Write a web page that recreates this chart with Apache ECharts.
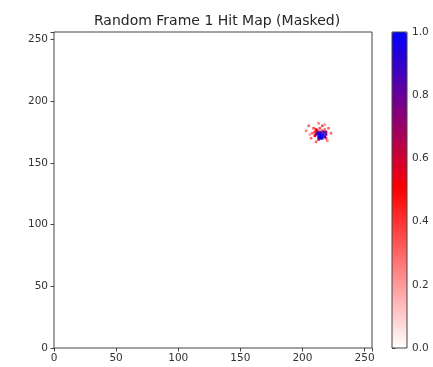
<!DOCTYPE html>
<html>
<head>
<meta charset="utf-8">
<script src="https://cdn.jsdelivr.net/npm/echarts@6/dist/echarts.min.js"></script>
<style>html,body{margin:0;padding:0;background:#fff}#c{width:433px;height:367px}</style>
</head>
<body>
<div id="c"></div>
<script>
// Hit pixels (x, y, value); zero-valued pixels are masked and not drawn
const hitX = [205,213,221,203,207,223,216,209,220,211,218,206,210,212,216,218,210,213,219,208,214,211,212,214,211,219,217,213,218,216,214,215,217,213,215,216,214,214,213,215,219];
const hitY = [180,182,178,176,170,174,180,178,168,167,181,173,175,176,176,177,172,169,170,174,178,177,174,175,173,173,175,171,171,170,171,174,173,173,172,172,173,170,174,170,175];
const hitV = [0.3,0.25,0.3,0.25,0.3,0.3,0.35,0.35,0.25,0.3,0.2,0.2,0.45,0.6,0.35,0.3,0.55,0.65,0.4,0.3,0.35,0.5,0.8,0.75,0.7,0.8,0.85,0.85,0.85,0.9,0.95,0.9,0.9,1.0,1.0,0.95,0.95,1.0,0.9,0.95,0.7];
const axisTicks = [0, 50, 100, 150, 200, 250];
const cbarTicks = [0.0, 0.2, 0.4, 0.6, 0.8, 1.0];
const titleText = 'Random Frame 1 Hit Map (Masked)';

const pts = hitX.map((x, i) => [x, hitY[i], hitV[i]]).sort((a, b) => a[2] - b[2]);
const font = 'DejaVu Sans';
const axisCol = '#444';
const chart = echarts.init(document.getElementById('c'), null, {renderer: 'canvas'});
chart.setOption({
  animation: false,
  backgroundColor: '#fff',
  title: {text: titleText, left: 212, top: 9, textAlign: 'center',
    textStyle: {fontFamily: font, fontSize: 14, fontWeight: 'normal', color: '#262626'}},
  grid: [
    {left: 54, right: 61, top: 32, bottom: 19, show: true, borderColor: axisCol, borderWidth: 1, z: 5},
    {left: 392, width: 15, top: 32, height: 316, show: true, borderColor: axisCol, borderWidth: 1, z: 10, backgroundColor: 'transparent'}
  ],
  xAxis: [
    {type: 'value', gridIndex: 0, min: 0, max: 256, interval: 50,
      axisLine: {show: false}, splitLine: {show: false},
      axisTick: {show: true, length: 3.5, lineStyle: {color: axisCol}},
      axisLabel: {fontFamily: font, fontSize: 10.5, color: '#333', margin: 5,
        formatter: v => axisTicks.includes(v) ? String(v) : ''}},
    {type: 'value', gridIndex: 1, show: false, min: 0, max: 1}
  ],
  yAxis: [
    {type: 'value', gridIndex: 0, min: 0, max: 256, interval: 50,
      axisLine: {show: false}, splitLine: {show: false},
      axisTick: {show: true, length: 3.5, lineStyle: {color: axisCol}},
      axisLabel: {fontFamily: font, fontSize: 10.5, color: '#333', margin: 6,
        formatter: v => axisTicks.includes(v) ? String(v) : ''}},
    {type: 'value', gridIndex: 1, position: 'right', min: 0, max: 1, interval: 0.2,
      axisLine: {show: false}, splitLine: {show: false},
      axisTick: {show: true, length: 3.5, lineStyle: {color: axisCol}},
      axisLabel: {fontFamily: font, fontSize: 10.5, color: '#333', margin: 5,
        formatter: v => cbarTicks.some(t => Math.abs(t - v) < 1e-6) ? v.toFixed(1) : ''}}
  ],
  visualMap: {
    type: 'continuous', min: 0, max: 1, dimension: 2, seriesIndex: 0,
    calculable: false, hoverLink: false, text: null, showLabel: false,
    left: 392, top: 32, padding: 0, itemWidth: 15, itemHeight: 316,
    inRange: {color: ['#ffffff', '#ff0000', '#0000ff']}
  },
  series: [{
    type: 'scatter', xAxisIndex: 0, yAxisIndex: 0, symbol: 'rect', symbolSize: 2.6,
    data: pts, itemStyle: {opacity: 1}
  }]
});
</script>
</body>
</html>
